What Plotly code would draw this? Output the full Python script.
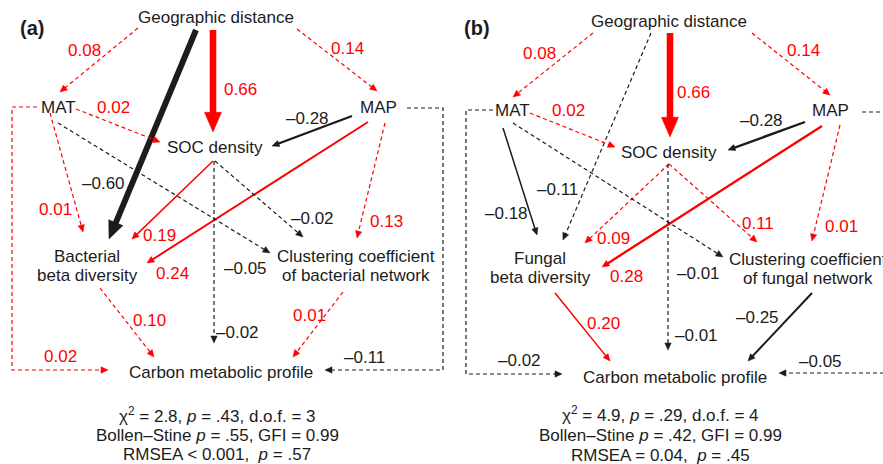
import math
import plotly.graph_objects as go

W, H = 883, 464
FONT = "Liberation Sans, Arial, Helvetica, sans-serif"
RED = "#ff0000"
INK = "#1c1c1c"

# ---------------- data ----------------
panel_tags = ["(a)", "(b)"]

node_keys = ["Geo", "MAT", "MAP", "SOC", "Beta", "Clust", "CMP"]
node_text_a = ["Geographic distance", "MAT", "MAP", "SOC density",
               ["Bacterial", "beta diversity"],
               ["Clustering coefficient", "of bacterial network"],
               "Carbon metabolic profile"]
node_text_b = ["Geographic distance", "MAT", "MAP", "SOC density",
               ["Fungal", "beta diversity"],
               ["Clustering coefficient", "of fungal network"],
               "Carbon metabolic profile"]

src = ["Geo", "Geo", "Geo", "Geo", "MAT", "MAP", "MAT", "SOC", "MAP",
       "MAT", "SOC", "MAP", "SOC", "Beta", "Clust", "MAT", "MAP"]
dst = ["MAT", "SOC", "Beta", "MAP", "SOC", "SOC", "Beta", "Beta", "Beta",
       "Clust", "Clust", "Clust", "CMP", "CMP", "CMP", "CMP", "CMP"]

coef_a = [0.08, 0.66, -0.60, 0.14, 0.02, -0.28, 0.01, 0.19, 0.24,
          -0.05, -0.02, 0.13, -0.02, 0.10, 0.01, 0.02, -0.11]
sig_a = [0, 1, 1, 0, 0, 1, 0, 1, 1, 0, 0, 0, 0, 0, 0, 0, 0]

coef_b = [0.08, 0.66, -0.11, 0.14, 0.02, -0.28, -0.18, 0.09, 0.28,
          -0.01, 0.11, 0.01, -0.01, 0.20, -0.25, -0.02, -0.05]
sig_b = [0, 1, 0, 0, 0, 1, 1, 0, 1, 0, 0, 0, 0, 1, 1, 0, 0]

stats_a = ["χ<sup>2</sup> = 2.8, <i>p</i> = .43, d.o.f. = 3",
           "Bollen–Stine <i>p</i> = .55, GFI = 0.99",
           "RMSEA &lt; 0.001,  <i>p</i> = .57"]
stats_b = ["χ<sup>2</sup> = 4.9, <i>p</i> = .29, d.o.f. = 4",
           "Bollen–Stine <i>p</i> = .42, GFI = 0.99",
           "RMSEA = 0.04,  <i>p</i> = .45"]

# ---------------- layout geometry (pixel canvas) ----------------
tag_pos = [(32, 28), (477, 28)]
node_pos_a = {"Geo": (216, 17), "MAT": (58, 107), "MAP": (378, 107),
              "SOC": (215, 147), "Beta": (87, 256), "Clust": (356, 256),
              "CMP": (221, 372)}
node_pos_b = {"Geo": (669, 21), "MAT": (512, 110), "MAP": (830, 110),
              "SOC": (669, 152), "Beta": (540, 258), "Clust": (808, 259),
              "CMP": (675, 377)}
stats_pos_a = [(217, 415), (217, 435), (217, 454)]
stats_pos_b = [(660, 414), (660, 435), (660, 455)]

path_a = [
    [(138, 28), (60, 92)],
    [(213, 30), (213, 132)],
    [(196, 30), (109, 239)],
    [(297, 29), (377, 91)],
    [(76, 109), (160, 142)],
    [(352, 116), (272, 146)],
    [(50, 113), (83, 232)],
    [(213, 161), (132, 239)],
    [(368, 122), (147, 263)],
    [(58, 123), (270, 253)],
    [(215, 161), (303, 237)],
    [(385, 123), (357, 238)],
    [(214, 161), (214, 343)],
    [(100, 288), (154, 357)],
    [(343, 292), (293, 357)],
    [(37, 107), (12, 107), (12, 370), (108, 370)],
    [(407, 108), (443, 108), (443, 370), (325, 370)],
]
label_a = [(84, 50), (240, 89), (103, 183), (347, 48), (113, 107), (307, 118),
           (55, 209), (159, 235), (172, 273), (245, 268), (312, 218),
           (386, 221), (237, 332), (149, 320), (309, 315), (60, 356),
           (364, 357)]

path_b = [
    [(593, 33), (513, 97)],
    [(670, 33), (670, 137)],
    [(651, 33), (563, 240)],
    [(752, 33), (830, 95)],
    [(530, 113), (615, 147)],
    [(805, 122), (728, 150)],
    [(503, 128), (537, 235)],
    [(669, 164), (585, 243)],
    [(822, 126), (602, 267)],
    [(513, 123), (723, 257)],
    [(669, 164), (757, 242)],
    [(840, 125), (812, 241)],
    [(668, 164), (668, 350)],
    [(555, 293), (610, 361)],
    [(812, 293), (748, 361)],
    [(493, 110), (466, 110), (466, 374), (562, 374)],
    [(862, 112), (900, 112), (900, 373), (779, 373)],
]
label_b = [(539, 53), (693, 92), (557, 189), (803, 50), (568, 110), (761, 120),
           (506, 213), (613, 238), (626, 276), (698, 273), (758, 223),
           (841, 226), (696, 335), (603, 323), (757, 317), (519, 360),
           (820, 361)]

FS = 17

fig = go.Figure()


def fmt(c):
    s = f"{abs(c):.2f}"
    return ("–" + s) if c < 0 else s


def draw_edge(pts, c, s):
    color = RED if c > 0 else INK
    if s:
        w = max(1.5, 11 * abs(c) - 0.7)
        dash = "solid"
    else:
        w = 1.2
        dash = "4px,3px"
    L = max(7.0, 3.0 * w)
    hw = max(3.2, 1.3 * w)
    (x1, y1), (x2, y2) = pts[-2], pts[-1]
    d = math.hypot(x2 - x1, y2 - y1)
    ux, uy = (x2 - x1) / d, (y2 - y1) / d
    bx, by = x2 - ux * L, y2 - uy * L
    ov = min(2.0, 0.2 * L)
    lp = list(pts[:-1]) + [(bx + ux * ov, by + uy * ov)]
    fig.add_trace(go.Scatter(x=[p[0] for p in lp], y=[p[1] for p in lp],
                             mode="lines", hoverinfo="skip",
                             line=dict(color=color, width=w, dash=dash)))
    px, py = -uy, ux
    tri = [(x2, y2), (bx + px * hw, by + py * hw), (bx - px * hw, by - py * hw), (x2, y2)]
    fig.add_trace(go.Scatter(x=[p[0] for p in tri], y=[p[1] for p in tri],
                             mode="lines", fill="toself", fillcolor=color,
                             hoverinfo="skip", line=dict(color=color, width=0.5)))


def text(x, y, t, color=INK, size=FS, bold=False):
    fig.add_annotation(x=x, y=y, xref="x", yref="y", text=("<b>%s</b>" % t) if bold else t,
                       showarrow=False, xanchor="center", yanchor="middle",
                       font=dict(family=FONT, size=size, color=color))


panels = [
    (node_text_a, node_pos_a, coef_a, sig_a, path_a, label_a, stats_a, stats_pos_a),
    (node_text_b, node_pos_b, coef_b, sig_b, path_b, label_b, stats_b, stats_pos_b),
]

for i, (ntext, npos, coefs, sigs, paths, labs, stats, spos) in enumerate(panels):
    for k in range(len(coefs)):
        draw_edge(paths[k], coefs[k], sigs[k])
    for key, t in zip(node_keys, ntext):
        x, y = npos[key]
        if isinstance(t, list):
            text(x, y, t[0])
            text(x, y + 19, t[1])
        else:
            text(x, y, t)
    for k in range(len(coefs)):
        lx, ly = labs[k]
        text(lx, ly, fmt(coefs[k]), color=RED if coefs[k] > 0 else INK)
    for line, (sx, sy) in zip(stats, spos):
        text(sx, sy, line, size=17)
    tx, ty = tag_pos[i]
    text(tx, ty, panel_tags[i], size=20, bold=True)

fig.update_layout(
    width=W, height=H, margin=dict(l=0, r=0, t=0, b=0),
    paper_bgcolor="white", plot_bgcolor="white", showlegend=False,
    xaxis=dict(range=[0, W], visible=False, fixedrange=True),
    yaxis=dict(range=[H, 0], visible=False, fixedrange=True),
)

fig.write_html("out.html")
